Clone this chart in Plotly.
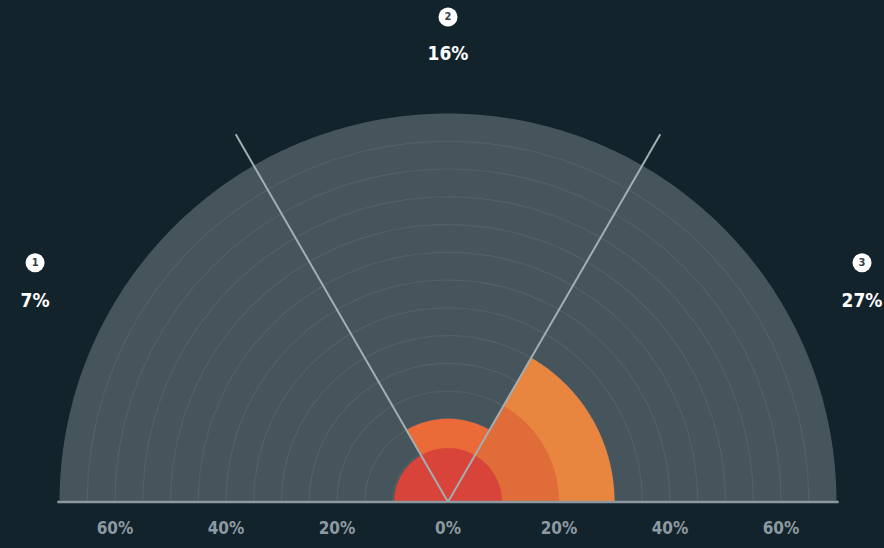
import numpy as np
import plotly.graph_objects as go

# ---------------- data ----------------
sector_ids = ["1", "2", "3"]
sector_values = ["7%", "16%", "27%"]
sector_start = [120, 60, 0]      # degrees
sector_end = [180, 120, 60]
inner_radius = [9.7, 9.7, 9.7]   # % (red layer)
middle_radius = [0, 15, 20]      # % (orange layer)
outer_radius = [0, 0, 30]        # % (light orange layer)
axis_max = 70
grid_step = 5
divider_angles = [60, 120]
divider_length = 76.5
tick_values = [-60, -40, -20, 0, 20, 40, 60]
tick_labels = ["60%", "40%", "20%", "0%", "20%", "40%", "60%"]

# ---------------- style ----------------
BG = "#13232C"
HALF = "#46545B"
GRID = "rgba(255,255,255,0.07)"
RED = "#D8443A"
MID_COLORS = ["#E8683A", "#EA6A38", "#E06C3A"]
OUTER = "#E8853F"
LINE = "#A3AEB3"
FONT = "Liberation Sans Narrow, DejaVu Sans Condensed, Arial Narrow, sans-serif"

K = 5.55  # px per unit
W, H = 884, 548
B = 38
CX, CY = 448, 502
xr = [-CX / K, (W - CX) / K]
yr = [-(H - B - CY) / K, CY / K]


def wedge(r, a0, a1, n=90):
    t = np.radians(np.linspace(a0, a1, n))
    x = np.concatenate([[0], r * np.cos(t), [0]])
    y = np.concatenate([[0], r * np.sin(t), [0]])
    return x, y


fig = go.Figure()

# grey half disc
x, y = wedge(axis_max, 0, 180, 240)
fig.add_trace(go.Scatter(x=x, y=y, fill="toself", fillcolor=HALF, mode="none",
                         hoverinfo="skip", showlegend=False))

# grid rings
gx, gy = [], []
for r in range(grid_step, axis_max, grid_step):
    t = np.radians(np.linspace(0, 180, 200))
    gx += list(r * np.cos(t)) + [None]
    gy += list(r * np.sin(t)) + [None]
fig.add_trace(go.Scatter(x=gx, y=gy, mode="lines", line=dict(color=GRID, width=1.2),
                         hoverinfo="skip", showlegend=False))

# outer layer
for i in range(3):
    if outer_radius[i] > 0:
        x, y = wedge(outer_radius[i], sector_start[i], sector_end[i])
        fig.add_trace(go.Scatter(x=x, y=y, fill="toself", fillcolor=OUTER, mode="none",
                                 hoverinfo="skip", showlegend=False))
# middle layer
for i in range(3):
    if middle_radius[i] > 0:
        x, y = wedge(middle_radius[i], sector_start[i], sector_end[i])
        fig.add_trace(go.Scatter(x=x, y=y, fill="toself", fillcolor=MID_COLORS[i], mode="none",
                                 hoverinfo="skip", showlegend=False))
# inner layer
for i in range(3):
    x, y = wedge(inner_radius[i], sector_start[i], sector_end[i])
    fig.add_trace(go.Scatter(x=x, y=y, fill="toself", fillcolor=RED, mode="lines",
                             line=dict(color=RED, width=0.5),
                             hoverinfo="skip", showlegend=False))

# divider lines
for a in divider_angles:
    t = np.radians(a)
    fig.add_trace(go.Scatter(x=[0, divider_length * np.cos(t)], y=[0, divider_length * np.sin(t)],
                             mode="lines", line=dict(color=LINE, width=2),
                             hoverinfo="skip", showlegend=False))

# baseline
fig.add_trace(go.Scatter(x=[-axis_max - 0.4, axis_max + 0.4], y=[0, 0], mode="lines",
                         line=dict(color="#8C989E", width=2.5),
                         hoverinfo="skip", showlegend=False))

# sector labels (badge + value)
badge_pos = [(-74.4, 43.1), (0, 87.4), (74.6, 43.1)]
value_pos = [(-74.4, 36.0), (0, 80.5), (74.6, 36.0)]
fig.add_trace(go.Scatter(x=[p[0] for p in badge_pos], y=[p[1] for p in badge_pos],
                         mode="markers+text", text=["<b>%s</b>" % s for s in sector_ids],
                         textposition="middle center",
                         marker=dict(size=19, color="white"),
                         textfont=dict(family=FONT, size=11, color="#33404A"),
                         hoverinfo="skip", showlegend=False))
fig.add_trace(go.Scatter(x=[p[0] for p in value_pos], y=[p[1] for p in value_pos],
                         mode="text", text=["<b>%s</b>" % v for v in sector_values],
                         textposition="middle center",
                         textfont=dict(family=FONT, size=19, color="white"),
                         hoverinfo="skip", showlegend=False))

fig.update_layout(
    width=W, height=H,
    margin=dict(l=0, r=0, t=0, b=B),
    paper_bgcolor=BG, plot_bgcolor=BG,
    xaxis=dict(range=xr, showgrid=False, zeroline=False, showline=False,
               tickvals=tick_values, ticktext=["<b>%s</b>" % t for t in tick_labels],
               ticks="", ticklabelstandoff=6,
               tickfont=dict(family=FONT, size=17, color="#8E9AA1"), fixedrange=True),
    yaxis=dict(range=yr, showgrid=False, zeroline=False, showline=False,
               showticklabels=False, fixedrange=True),
)

fig.write_html(
    "out.html",
    config={"displayModeBar": False},
    post_script="document.body.style.margin='0';document.body.style.overflow='hidden';"
                "document.body.style.background='" + BG + "';",
)
